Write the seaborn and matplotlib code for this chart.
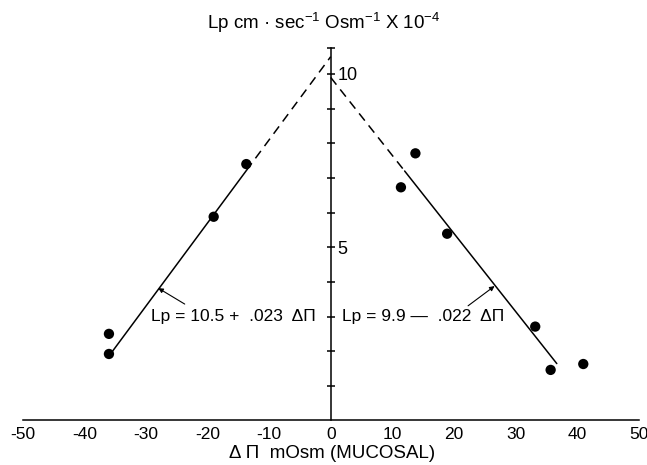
import matplotlib
matplotlib.use("Agg")
import matplotlib.pyplot as plt
import seaborn as sns
from matplotlib.ticker import FixedLocator, FixedFormatter

# Measured Lp (cm·sec⁻¹·Osm⁻¹ ×10⁻⁴) against mucosal osmotic gradient (mOsm)
neg_gradient = [-36.0, -36.0, -19.0, -13.7]
neg_lp = [2.50, 1.92, 5.88, 7.40]
pos_gradient = [11.4, 13.75, 18.9, 33.2, 35.7, 41.0]
pos_lp = [6.73, 7.71, 5.39, 2.71, 1.46, 1.63]

# Regression lines (intercept, slope in plotted units) and their extents
neg_intercept, neg_slope = 10.5, 0.24
pos_intercept, pos_slope = 9.9, -0.225
neg_solid_x = [-35.8, -13.7]
neg_dash_x = [-13.7, 0.0]
pos_dash_x = [0.0, 12.0]
pos_solid_x = [12.0, 36.7]

x_ticks = [-50, -40, -30, -20, -10, 0, 10, 20, 30, 40, 50]
x_tick_labels = ["-50", "-40", "-30", "-20", "-10", "0", "10", "20", "30", "40", "50"]
y_ticks = [1, 2, 3, 4, 5, 6, 7, 8, 9, 10, 10.75]
y_tick_labels = ["", "", "", "", "5", "", "", "", "", "10", ""]

neg_label = "Lp = 10.5 +  .023  ΔΠ"
pos_label = "Lp = 9.9 —  .022  ΔΠ"
title_text = r"Lp cm · sec$^{-1}$ Osm$^{-1}$ X 10$^{-4}$"
xlabel_text = "Δ Π  mOsm (MUCOSAL)"

sns.set_style("white")
plt.rcParams["font.family"] = ["Liberation Sans", "DejaVu Sans"]
plt.rcParams["mathtext.fontset"] = "custom"
plt.rcParams["mathtext.rm"] = "Liberation Sans"
plt.rcParams["mathtext.it"] = "Liberation Sans:italic"
plt.rcParams["axes.unicode_minus"] = False

fig = plt.figure(figsize=(6.47, 4.65), dpi=100)
ax = fig.add_axes([0.0351, 0.0957, 0.9521, 0.8197])

ink = "black"
lw = 1.1


def line_y(xs, b, m):
    return [b + m * x for x in xs]


sns.lineplot(x=neg_solid_x, y=line_y(neg_solid_x, neg_intercept, neg_slope),
             color=ink, lw=lw, ax=ax)
sns.lineplot(x=neg_dash_x, y=line_y(neg_dash_x, neg_intercept, neg_slope),
             color=ink, lw=lw, linestyle=(0, (6, 4)), ax=ax)
sns.lineplot(x=pos_dash_x, y=line_y(pos_dash_x, pos_intercept, pos_slope),
             color=ink, lw=lw, linestyle=(0, (6, 4)), ax=ax)
sns.lineplot(x=pos_solid_x, y=line_y(pos_solid_x, pos_intercept, pos_slope),
             color=ink, lw=lw, ax=ax)

sns.scatterplot(x=neg_gradient, y=neg_lp, color=ink, s=55, edgecolor="none",
                ax=ax, zorder=3)
sns.scatterplot(x=pos_gradient, y=pos_lp, color=ink, s=55, edgecolor="none",
                ax=ax, zorder=3)

ax.set_xlim(-50, 50)
ax.set_ylim(0, 11)

# vertical axis drawn through zero, labels on its right side
ax.spines["left"].set_visible(False)
ax.spines["top"].set_visible(False)
ax.spines["right"].set_position(("data", 0))
ax.spines["right"].set_bounds(0, 10.75)
for s in ("right", "bottom"):
    ax.spines[s].set_color(ink)
    ax.spines[s].set_linewidth(lw)
ax.spines["bottom"].set_bounds(-50, 50)

ax.yaxis.tick_right()
ax.yaxis.set_major_locator(FixedLocator(y_ticks))
ax.yaxis.set_major_formatter(FixedFormatter(y_tick_labels))
ax.xaxis.set_major_locator(FixedLocator(x_ticks))
ax.xaxis.set_major_formatter(FixedFormatter(x_tick_labels))
ax.tick_params(axis="y", direction="inout", length=6, width=lw, pad=2,
               labelsize=13, colors=ink)
ax.tick_params(axis="x", direction="in", length=6, width=lw, pad=5,
               labelsize=12.5, colors=ink)
ax.set_xlabel("")
ax.set_ylabel("")

# equation labels with pointers to their lines
ax.text(-29.2, 3.0, neg_label, ha="left", va="center", fontsize=12.5, color=ink)
ax.text(1.8, 3.0, pos_label, ha="left", va="center", fontsize=12.5, color=ink)
arrow = dict(arrowstyle="-|>", lw=0.8, color=ink, mutation_scale=7,
             shrinkA=0, shrinkB=0)
ax.annotate("", xy=(-28.0, 3.82), xytext=(-23.7, 3.36), arrowprops=arrow)
ax.annotate("", xy=(26.6, 3.88), xytext=(22.3, 3.31), arrowprops=arrow)

fig.text(324 / 647, 1 - 23 / 465, title_text, ha="center", va="center",
         fontsize=13.5, color=ink)
fig.text(332 / 647, 1 - 453 / 465, xlabel_text, ha="center", va="center",
         fontsize=13.5, color=ink)

fig.savefig("out.png", dpi=100, facecolor="white")
